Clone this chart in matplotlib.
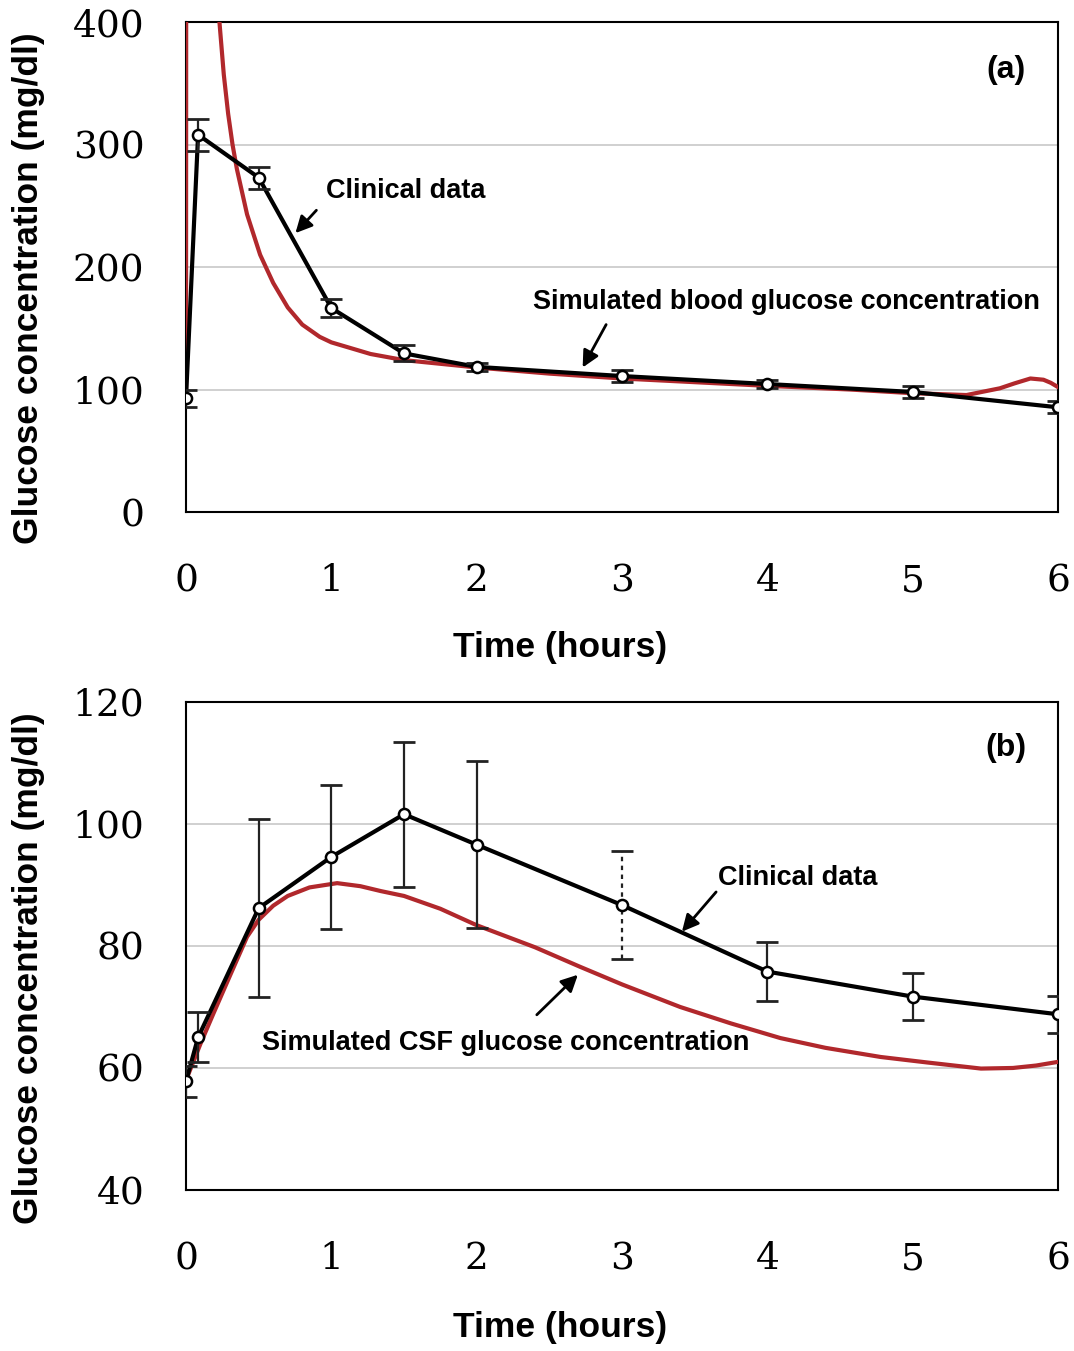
import numpy as np
import matplotlib
matplotlib.use("Agg")
import matplotlib.pyplot as plt

# ---- panel (a): blood glucose ----
t_clin_a = [0.0, 0.083, 0.5, 1.0, 1.5, 2.0, 3.0, 4.0, 5.0, 6.0]
glu_clin_a = [93, 308, 273, 166.5, 129.5, 118.5, 111, 104.5, 98, 85.5]
err_clin_a = [7, 13, 9, 7.5, 6.5, 3, 5, 3, 5, 5]

t_sim_a = [0.0, 0.005, 0.1, 0.2, 0.23, 0.26, 0.29, 0.32, 0.35, 0.42, 0.51, 0.6,
           0.7, 0.8, 0.92, 1.0, 1.27, 1.5, 2.0, 2.5, 3.0, 3.5, 4.0, 4.57, 5.0,
           5.37, 5.6, 5.7, 5.81, 5.9, 5.95, 6.0]
glu_sim_a = [95, 1500, 700, 460, 400, 357, 325, 300, 280, 243, 210, 187,
             167, 153, 143, 138.5, 129, 124, 118, 113, 109, 106, 103, 100, 97,
             95.5, 101, 105, 109, 108, 105.5, 102]

# ---- panel (b): CSF glucose ----
t_clin_b = [0.0, 0.083, 0.5, 1.0, 1.5, 2.0, 3.0, 4.0, 5.0, 6.0]
glu_clin_b = [57.8, 65, 86.2, 94.6, 101.6, 96.6, 86.7, 75.8, 71.7, 68.8]
err_clin_b = [2.5, 4.1, 14.6, 11.8, 11.9, 13.7, 8.8, 4.9, 3.9, 3.0]

t_sim_b = [0.0, 0.1, 0.19, 0.3, 0.42, 0.5, 0.6, 0.7, 0.85, 1.04, 1.2, 1.34,
           1.5, 1.75, 2.0, 2.4, 2.71, 3.0, 3.4, 3.75, 4.09, 4.4, 4.78, 5.1,
           5.47, 5.69, 5.85, 6.0]
glu_sim_b = [58, 64, 69, 75, 81.5, 84.3, 86.6, 88.2, 89.6, 90.3, 89.8, 89.0,
             88.2, 86.1, 83.4, 79.8, 76.6, 73.7, 70.0, 67.3, 64.9, 63.3, 61.8,
             60.9, 59.9, 60.0, 60.4, 61.0]

RED = "#b1282c"
SERIF = "DejaVu Serif"
SANS = "Liberation Sans"

fig = plt.figure(figsize=(10.74, 13.51), dpi=100)
ax_a = fig.add_axes([0.1732, 0.6210, 0.8119, 0.3627])
ax_b = fig.add_axes([0.1732, 0.1192, 0.8119, 0.3612])


def style_axes(ax, yticks):
    ax.set_xlim(0, 6)
    ax.set_xticks(range(7))
    ax.set_yticks(yticks)
    ax.set_ylim(yticks[0], yticks[-1])
    ax.grid(axis="y", color="#c8c8c8", lw=1.2)
    ax.set_axisbelow(True)
    ax.tick_params(length=0, labelsize=27)
    ax.tick_params(axis="x", pad=37)
    ax.tick_params(axis="y", pad=30)
    for lab in ax.get_xticklabels() + ax.get_yticklabels():
        lab.set_fontfamily(SERIF)
    for s in ax.spines.values():
        s.set_linewidth(1.5)
        s.set_color("black")
    ax.set_xlabel("Time (hours)", fontsize=25.5, fontweight="bold", family=SANS)
    ax.set_ylabel("Glucose concentration (mg/dl)", fontsize=25.5,
                  fontweight="bold", family=SANS)


def clinical(ax, t, g, e, dotted_idx=None):
    ax.plot(t, g, color="black", lw=3, zorder=4)
    eb = ax.errorbar(t, g, yerr=e, fmt="none", ecolor="#222222", elinewidth=1.6,
                     capsize=8, capthick=2, zorder=5)
    if dotted_idx is not None:
        styles = ["solid"] * len(t)
        styles[dotted_idx] = (0, (2, 2))
        eb[2][0].set_linestyles(styles)
    ax.plot(t, g, "o", ms=8, mfc="white", mec="black", mew=1.8, zorder=6)


def note(ax, text, xy_text, xy_tail, xy_tip):
    ax.text(*xy_text, text, fontsize=19.5, fontweight="bold", family=SANS,
            ha="center", va="center", zorder=7)
    ax.annotate("", xy=xy_tip, xytext=xy_tail,
                arrowprops=dict(arrowstyle="-|>", color="black", lw=2,
                                mutation_scale=25), zorder=7)


# panel (a)
style_axes(ax_a, [0, 100, 200, 300, 400])
ax_a.plot(t_sim_a, glu_sim_a, color=RED, lw=3, zorder=3)
clinical(ax_a, t_clin_a, glu_clin_a, err_clin_a)
note(ax_a, "Clinical data", (1.51, 262), (0.91, 248), (0.74, 226))
note(ax_a, "Simulated blood glucose concentration", (4.13, 171.5),
     (2.90, 155), (2.72, 116))
ax_a.text(5.64, 361, "(a)", fontsize=23, fontweight="bold", family=SANS,
          ha="center", va="center")
ax_a.xaxis.set_label_coords(0.429, -0.243)
ax_a.yaxis.set_label_coords(-0.162, 0.457)

# panel (b)
style_axes(ax_b, [40, 60, 80, 100, 120])
ax_b.plot(t_sim_b, glu_sim_b, color=RED, lw=3, zorder=3)
clinical(ax_b, t_clin_b, glu_clin_b, err_clin_b, dotted_idx=6)
note(ax_b, "Clinical data", (4.21, 91.1), (3.66, 89.2), (3.40, 82.0))
note(ax_b, "Simulated CSF glucose concentration", (2.20, 64.1),
     (2.40, 68.4), (2.71, 75.6))
ax_b.text(5.64, 112.5, "(b)", fontsize=23, fontweight="bold", family=SANS,
          ha="center", va="center")
ax_b.xaxis.set_label_coords(0.429, -0.248)
ax_b.yaxis.set_label_coords(-0.162, 0.455)

fig.savefig("out.png", dpi=100)
